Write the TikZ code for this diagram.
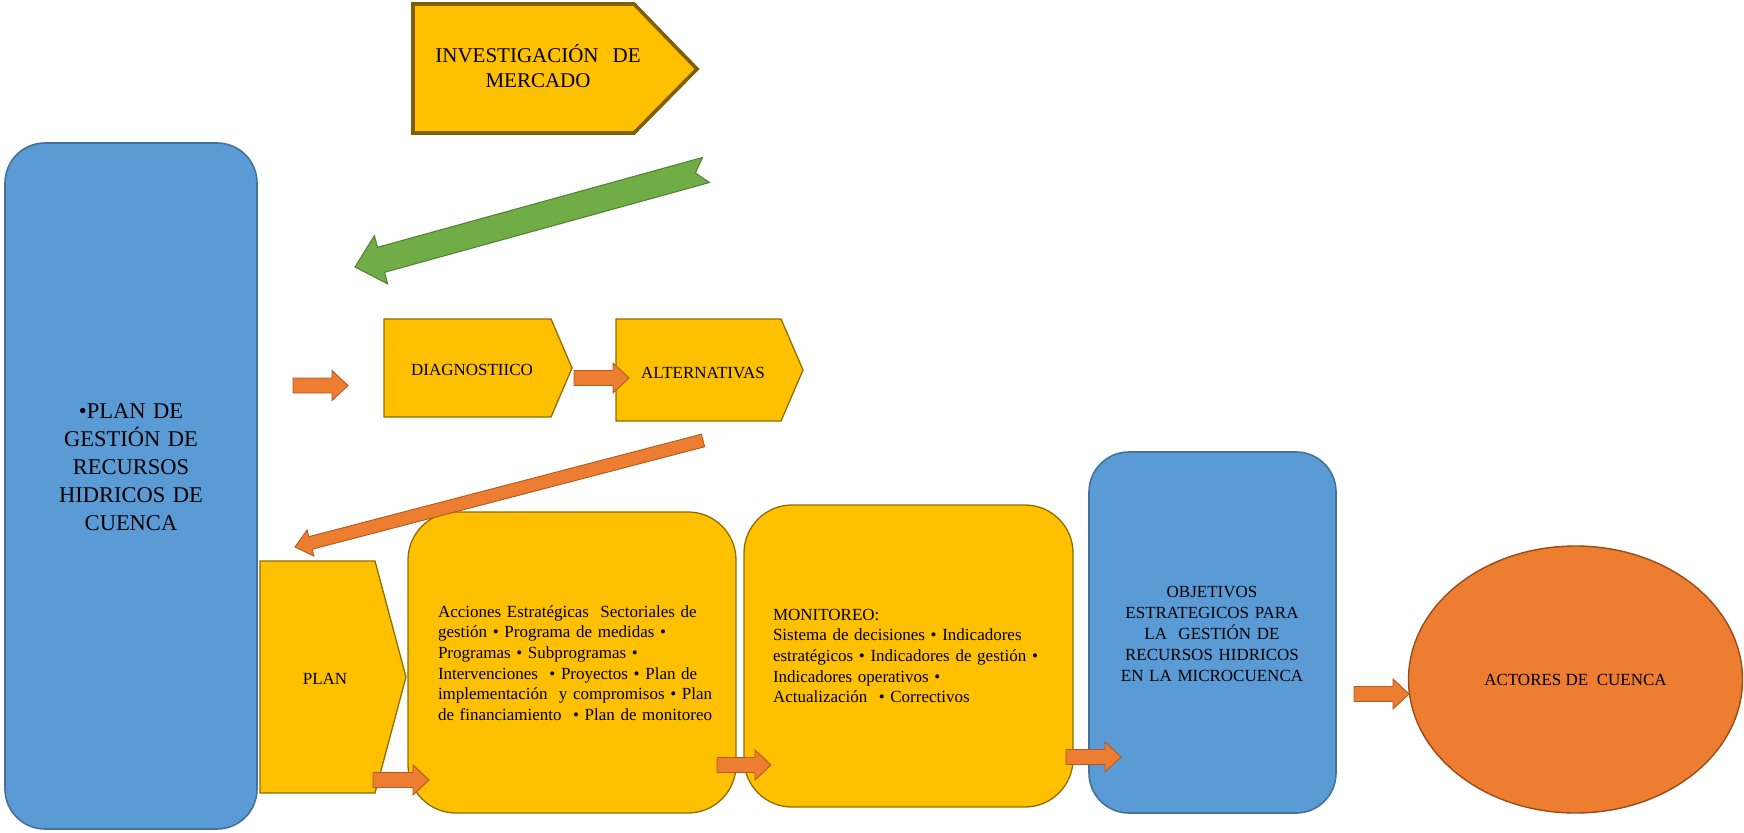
\documentclass[tikz,border=0pt]{standalone}
\usepackage{fontspec}
\setmainfont{Liberation Serif}
\usetikzlibrary{calc,shapes.geometric}

\definecolor{ygold}{HTML}{FFC000}
\definecolor{ygoldedge}{HTML}{7F6000}
\definecolor{ygoldthin}{HTML}{8F6E00}
\definecolor{bluefill}{HTML}{5B9BD5}
\definecolor{blueedge}{HTML}{41719C}
\definecolor{orfill}{HTML}{ED7D31}
\definecolor{oredge}{HTML}{AE5A21}
\definecolor{ellipseedge}{HTML}{9A4C17}
\definecolor{grfill}{HTML}{70AD47}
\definecolor{gredge}{HTML}{507E32}

\tikzset{
  pentabox/.style={fill=ygold, draw=ygoldthin, line width=1.3pt, line join=miter},
  yround/.style={fill=ygold, draw=ygoldthin, line width=1.3pt, rounded corners=48pt,
    inner sep=0pt, outer sep=0pt},
  bround/.style={fill=bluefill, draw=blueedge, line width=1.6pt, rounded corners=40pt,
    inner sep=0pt, outer sep=0pt},
  txt/.style={inner sep=0pt, outer sep=0pt, text=black},
  orarrow/.style={fill=orfill, draw=oredge, line width=0.9pt, line join=miter},
  grarrow/.style={fill=grfill, draw=gredge, line width=1pt, line join=miter},
}

% block arrow: [style]{tail}{tip}{shaft half width}{head length}{head half width}{tail notch}
\newcommand\blockarrow[7][]{%
  \coordinate (ba-h) at ($(#3)!#5!(#2)$);
  \filldraw[#1]
    ($(#2)!#4!90:(#3)$) --
    ($(ba-h)!#4!-90:(#2)$) --
    ($(ba-h)!#6!-90:(#2)$) --
    (#3) --
    ($(ba-h)!#6!90:(#2)$) --
    ($(ba-h)!#4!90:(#2)$) --
    ($(#2)!#4!-90:(#3)$) --
    ($(#2)!#7!(#3)$) -- cycle;
}

\begin{document}
\begin{tikzpicture}[x=1pt,y=-1pt]
\useasboundingbox (0,0) rectangle (1744,832);

% ---- plan de gestion (left column)
\node[bround, minimum width=252pt, minimum height=686pt] (pgrh) at (131,486) {};
\node[txt, anchor=base, text width=240pt, align=center,
      font=\fontsize{22.5pt}{28pt}\selectfont] (pgrhtxt) at (131,418)
  {•PLAN DE\\GESTIÓN DE\\RECURSOS\\HIDRICOS DE\\CUENCA};

% ---- investigacion de mercado
\filldraw[pentabox, draw=ygoldedge, line width=3.6pt]
  (413,4) -- (634,4) -- (697,69) -- (634,133) -- (413,133) -- cycle;
\node[txt, anchor=base, text width=240pt, align=center,
      font=\fontsize{21pt}{25pt}\selectfont] (invest) at (538,63)
  {INVESTIGACIÓN\ \ DE\\MERCADO};

% ---- diagnostico and alternativas
\filldraw[pentabox] (384,319) -- (551,319) -- (572,368) -- (551,417) -- (384,417) -- cycle;
\node[txt, anchor=base, font=\fontsize{17pt}{20pt}\selectfont] (diag) at (472,375) {DIAGNOSTIICO};

\filldraw[pentabox] (616,319) -- (781,319) -- (803,370) -- (781,421) -- (616,421) -- cycle;
\node[txt, anchor=base, font=\fontsize{17pt}{20pt}\selectfont] (alt) at (703,378) {ALTERNATIVAS};

% ---- plan
\filldraw[pentabox] (260,561) -- (375,561) -- (406,677) -- (375,793) -- (260,793) -- cycle;
\node[txt, anchor=base, font=\fontsize{17pt}{20pt}\selectfont] (plan) at (325,684) {PLAN};

% ---- acciones estrategicas
\node[yround, minimum width=328pt, minimum height=301pt] (acc) at (572,662.5) {};
\node[txt, anchor=base west, text width=300pt, align=left,
      font=\fontsize{17pt}{20.7pt}\selectfont] (acctxt) at (438,617)
  {Acciones Estratégicas\ \ Sectoriales de\\
   gestión • Programa de medidas •\\
   Programas • Subprogramas •\\
   Intervenciones\ \ • Proyectos • Plan de\\
   implementación\ \ y compromisos • Plan\\
   de financiamiento\ \ • Plan de monitoreo};

% ---- monitoreo
\node[yround, minimum width=329pt, minimum height=302pt] (mon) at (908.5,656) {};
\node[txt, anchor=base west, text width=300pt, align=left,
      font=\fontsize{17pt}{20.7pt}\selectfont] (montxt) at (773,620)
  {MONITOREO:\\
   Sistema de decisiones • Indicadores\\
   estratégicos • Indicadores de gestión •\\
   Indicadores operativos •\\
   Actualización\ \ • Correctivos};

% ---- objetivos estrategicos
\node[bround, minimum width=247pt, minimum height=361pt] (obj) at (1212.5,632.5) {};
\node[txt, anchor=base, text width=240pt, align=center,
      font=\fontsize{17pt}{21pt}\selectfont] (objtxt) at (1212,597)
  {OBJETIVOS\\ESTRATEGICOS PARA\\LA\ \ GESTIÓN DE\\RECURSOS HIDRICOS\\EN LA MICROCUENCA};

% ---- actores de cuenca
\node[ellipse, fill=orfill, draw=ellipseedge, line width=1.4pt, inner sep=0pt,
      minimum width=334pt, minimum height=267pt,
      font=\fontsize{17pt}{20pt}\selectfont] (actores) at (1575.5,679.5)
  {ACTORES DE\ \ CUENCA};

% ---- arrow end points
\coordinate (g-tail) at (706,170);   \coordinate (g-tip) at (355,267);
\coordinate (a1-tail) at (293,385.5); \coordinate (a1-tip) at (348,385.5);
\coordinate (a2-tail) at (574,378);  \coordinate (a2-tip) at (629,378);
\coordinate (d-tail) at (703,440.5); \coordinate (d-tip) at (295,547);
\coordinate (a3-tail) at (373,780);  \coordinate (a3-tip) at (429,780);
\coordinate (a4-tail) at (717,765);  \coordinate (a4-tip) at (771,765);
\coordinate (a5-tail) at (1066,757); \coordinate (a5-tip) at (1121,757);
\coordinate (a6-tail) at (1354,694); \coordinate (a6-tip) at (1409,694);

% ---- block arrows
\blockarrow[grarrow]{g-tail}{g-tip}{13pt}{27pt}{25pt}{11pt}
\blockarrow[orarrow]{a1-tail}{a1-tip}{7.5pt}{16pt}{15pt}{0pt}
\blockarrow[orarrow]{a2-tail}{a2-tip}{7.5pt}{16pt}{15pt}{0pt}
\blockarrow[orarrow]{d-tail}{d-tip}{6.5pt}{16pt}{13.5pt}{0pt}
\blockarrow[orarrow]{a3-tail}{a3-tip}{7.5pt}{16pt}{15pt}{0pt}
\blockarrow[orarrow]{a4-tail}{a4-tip}{7.5pt}{16pt}{15pt}{0pt}
\blockarrow[orarrow]{a5-tail}{a5-tip}{7.5pt}{16pt}{15pt}{0pt}
\blockarrow[orarrow]{a6-tail}{a6-tip}{7.5pt}{16pt}{15pt}{0pt}

\end{tikzpicture}
\end{document}
